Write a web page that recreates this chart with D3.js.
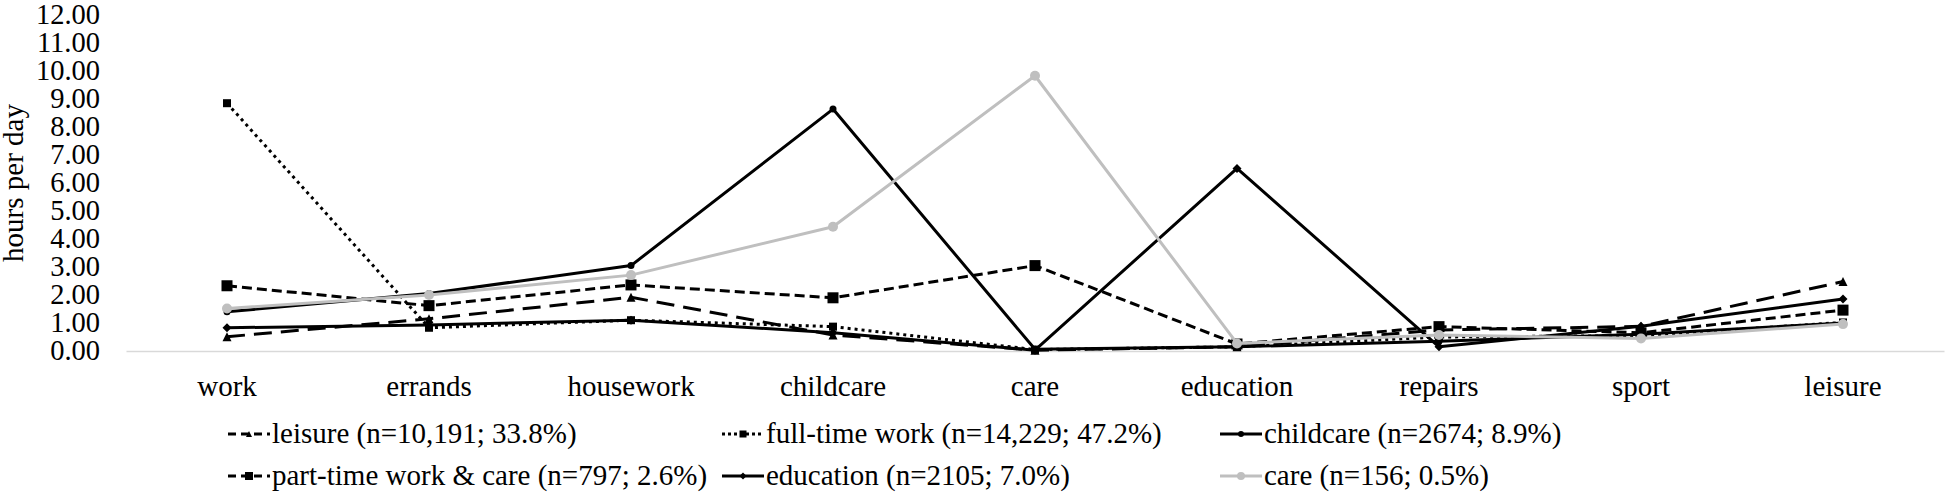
<!DOCTYPE html>
<html>
<head>
<meta charset="utf-8">
<script src="https://cdn.jsdelivr.net/npm/d3@7"></script>
<style>
  html, body { margin: 0; padding: 0; background: #fff; }
</style>
</head>
<body>
<svg id="chart" width="1946" height="493"></svg>
<script>
// ---- data ----
const categories = ["work", "errands", "housework", "childcare", "care", "education", "repairs", "sport", "leisure"];
const yTicks = [0, 1, 2, 3, 4, 5, 6, 7, 8, 9, 10, 11, 12];
const yTitle = "hours per day";

const leisureValues      = [0.51, 1.15, 1.92, 0.57, 0.03, 0.15, 0.75, 0.88, 2.48];
const fullTimeValues     = [8.85, 0.83, 1.10, 0.87, 0.05, 0.15, 0.50, 0.55, 1.02];
const childcareValues    = [1.40, 2.05, 3.05, 8.64, 0.06, 0.15, 0.35, 0.60, 1.00];
const partTimeValues     = [2.33, 1.62, 2.36, 1.90, 3.05, 0.25, 0.87, 0.65, 1.46];
const educationValues    = [0.83, 0.93, 1.10, 0.65, 0.03, 6.52, 0.15, 0.88, 1.86];
const careValues         = [1.52, 2.00, 2.71, 4.44, 9.83, 0.27, 0.57, 0.45, 0.96];

const seriesNames = [
  "leisure (n=10,191; 33.8%)",
  "full-time work (n=14,229; 47.2%)",
  "childcare (n=2674; 8.9%)",
  "part-time work & care (n=797; 2.6%)",
  "education (n=2105; 7.0%)",
  "care (n=156; 0.5%)"
];

// ---- styles (kept separate from data) ----
const FONT = '"Liberation Serif", "DejaVu Serif", "Times New Roman", serif';
const styles = [
  { color: "#000", dash: "18,9",  legendDash: "8,5", marker: "triangle", size: 9,  legendSize: 6 },
  { color: "#000", dash: "3,4",   legendDash: "3,3", marker: "square",   size: 8,  legendSize: 7 },
  { color: "#000", dash: null,    legendDash: null,  marker: "circle",   size: 7,  legendSize: 6 },
  { color: "#000", dash: "10,5",  legendDash: "8,5", marker: "square",   size: 11, legendSize: 8 },
  { color: "#000", dash: null,    legendDash: null,  marker: "diamond",  size: 9,  legendSize: 7 },
  { color: "#bfbfbf", dash: null, legendDash: null,  marker: "circle",   size: 10, legendSize: 8 }
];

const allValues = [leisureValues, fullTimeValues, childcareValues, partTimeValues, educationValues, careValues];
const series = seriesNames.map((name, i) => ({ name, values: allValues[i], style: styles[i] }));

// ---- layout ----
const svg = d3.select("#chart");
const plotLeft = 126, plotRight = 1944, plotTop = 15, plotBottom = 351;

const x = d3.scaleBand().domain(categories).range([plotLeft, plotRight]).padding(0);
const cx = c => x(c) + x.bandwidth() / 2;
const y = d3.scaleLinear().domain([0, 12]).range([plotBottom, plotTop]);

// y axis (labels only)
const yAxis = svg.append("g")
  .attr("transform", `translate(${plotLeft - 26},0)`)
  .call(d3.axisLeft(y).tickValues(yTicks).tickFormat(d3.format(".2f")).tickSize(0).tickPadding(0));
yAxis.attr("font-family", null).attr("font-size", null);
yAxis.select(".domain").remove();
yAxis.selectAll("text").style("font-family", FONT).style("font-size", "28.5px").attr("fill", "#000").attr("dy", "0.3em");

// y title
svg.append("text")
  .attr("transform", `translate(23,${(plotTop + plotBottom) / 2}) rotate(-90)`)
  .attr("text-anchor", "middle")
  .style("font-family", FONT)
  .style("font-size", "29px")
  .text(yTitle);

// x axis
const xAxis = svg.append("g")
  .attr("transform", `translate(0,${plotBottom})`)
  .call(d3.axisBottom(x).tickSize(0).tickPadding(0));
xAxis.attr("font-family", null).attr("font-size", null);
xAxis.select(".domain").attr("stroke", "#d9d9d9").attr("stroke-width", 1.5);
xAxis.selectAll("text").style("font-family", FONT).style("font-size", "29px").attr("fill", "#000").attr("dy", null).attr("y", 45);

// marker drawing helper
function drawMarker(g, type, size, color) {
  const s = size;
  if (type === "circle") {
    g.append("circle").attr("r", s / 2).attr("fill", color);
  } else if (type === "square") {
    g.append("rect").attr("x", -s / 2).attr("y", -s / 2).attr("width", s).attr("height", s).attr("fill", color);
  } else if (type === "diamond") {
    g.append("path").attr("d", `M0,${-s/2}L${s/2},0L0,${s/2}L${-s/2},0Z`).attr("fill", color);
  } else if (type === "triangle") {
    g.append("path").attr("d", `M0,${-s/2}L${s/2},${s/2}L${-s/2},${s/2}Z`).attr("fill", color);
  }
}

const line = d3.line().x((d, i) => cx(categories[i])).y(d => y(d));

const plot = svg.append("g");
series.forEach(s => {
  const g = plot.append("g");
  g.append("path")
    .attr("d", line(s.values))
    .attr("fill", "none")
    .attr("stroke", s.style.color)
    .attr("stroke-width", 3)
    .attr("stroke-dasharray", s.style.dash)
    .attr("stroke-linejoin", "round");
  s.values.forEach((v, i) => {
    const mg = g.append("g").attr("transform", `translate(${cx(categories[i])},${y(v)})`);
    drawMarker(mg, s.style.marker, s.style.size, s.style.color);
  });
});

// legend
const legendCols = [228, 722, 1220];
const legendRows = [443, 485];
const legend = svg.append("g");
series.forEach((s, i) => {
  const col = i % 3, row = Math.floor(i / 3);
  const lx = legendCols[col], ly = legendRows[row];
  const g = legend.append("g").attr("transform", `translate(${lx},${ly - 9})`);
  g.append("line").attr("x1", 0).attr("x2", 42).attr("y1", 0).attr("y2", 0)
    .attr("stroke", s.style.color).attr("stroke-width", 3)
    .attr("stroke-dasharray", s.style.legendDash);
  const mg = g.append("g").attr("transform", "translate(21,0)");
  drawMarker(mg, s.style.marker, s.style.legendSize, s.style.color);
  legend.append("text").attr("x", lx + 44).attr("y", ly)
    .style("font-family", FONT).style("font-size", "29px").text(s.name);
});
</script>
</body>
</html>
